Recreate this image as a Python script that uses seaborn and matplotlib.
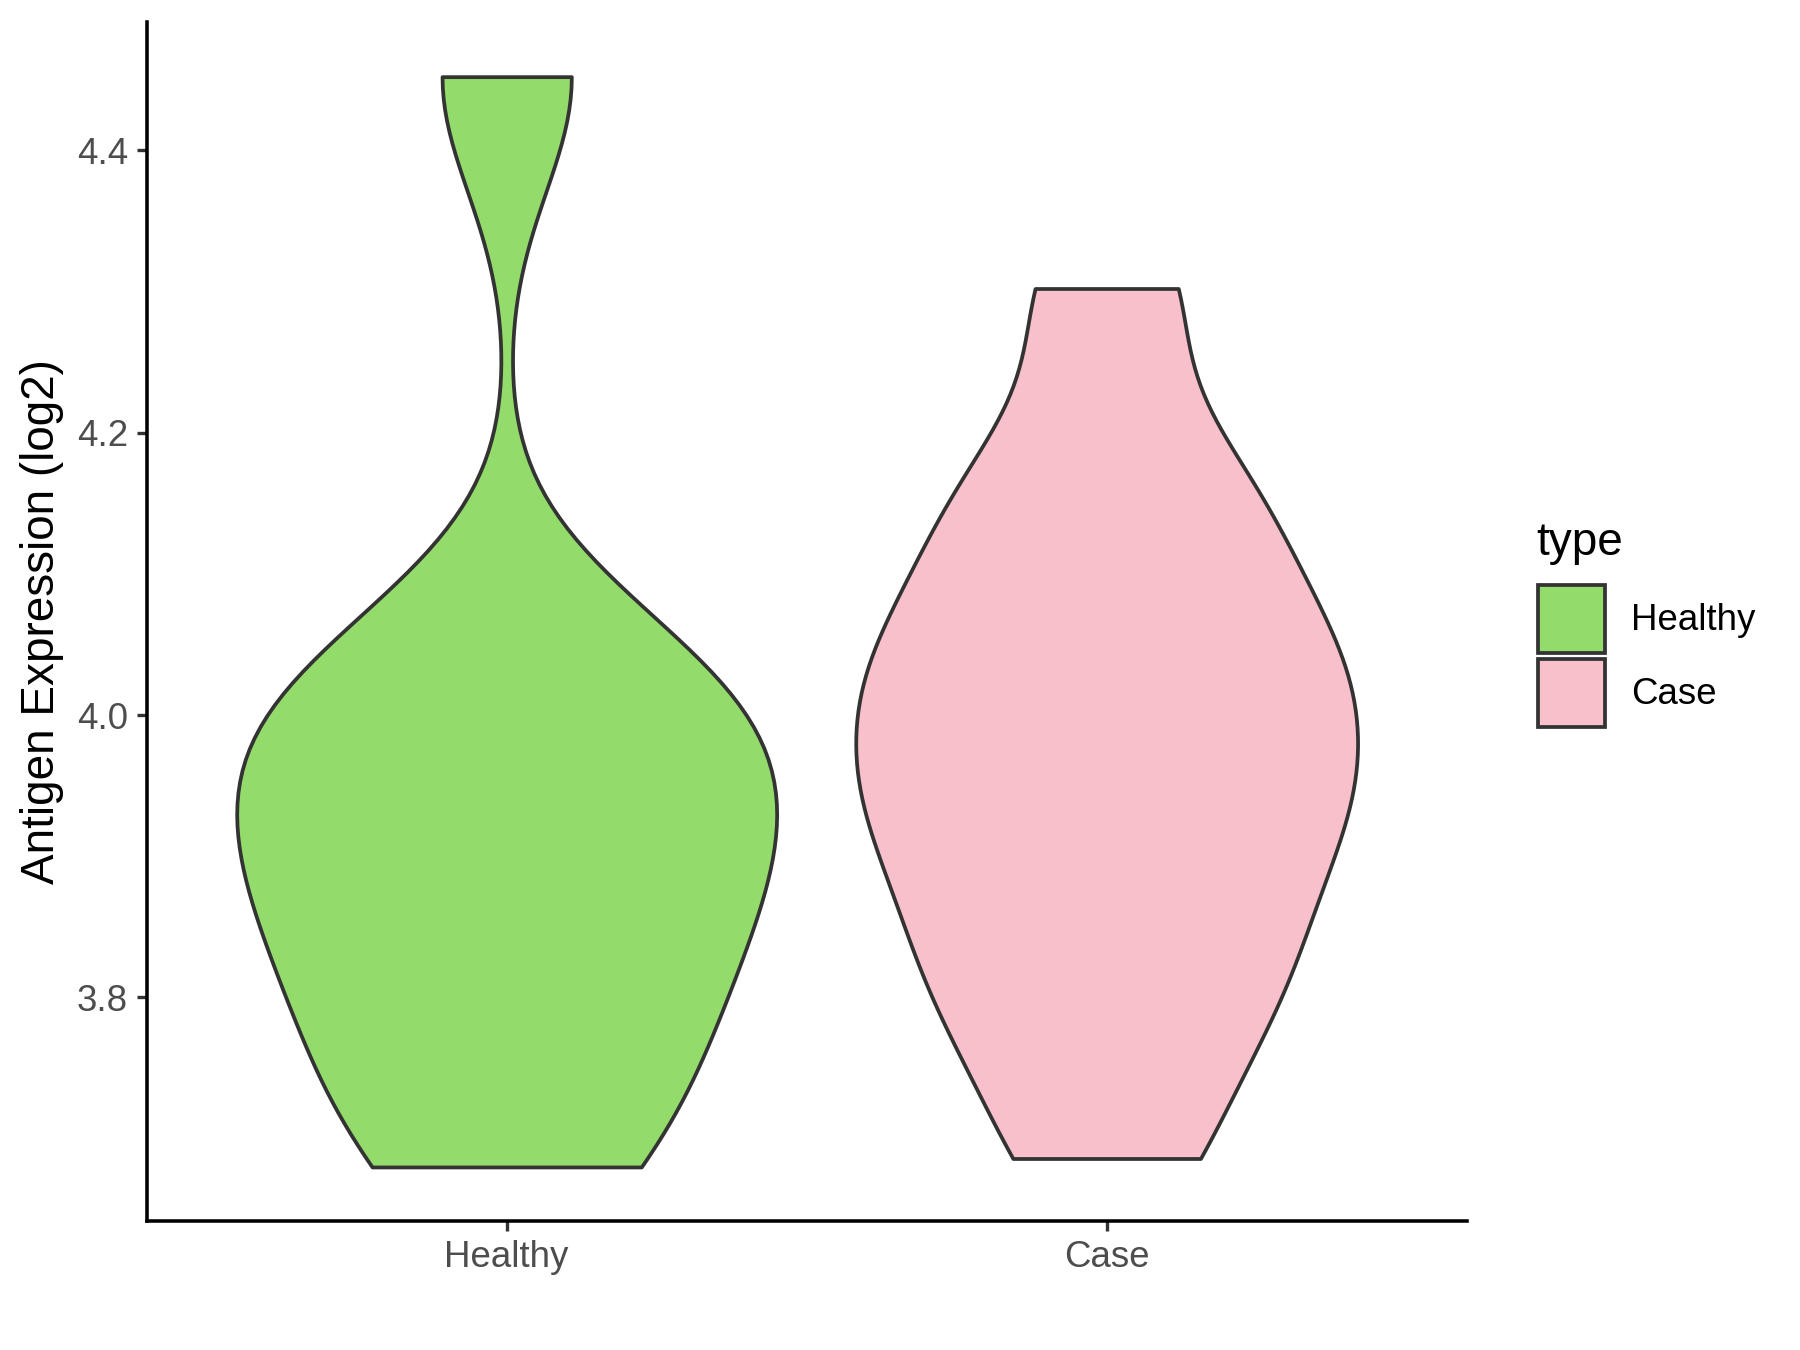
import pandas as pd
import matplotlib
matplotlib.use("Agg")
import matplotlib.pyplot as plt
import seaborn as sns
from matplotlib.patches import Patch

# --- DATOS ---
tipos = ["Healthy", "Case"]
healthy_valores = [3.680, 3.745, 3.811, 3.888, 3.888, 3.971, 4.002, 4.035, 4.452]
case_valores = [3.686, 3.773, 3.822, 3.870, 3.937, 3.937, 3.994, 4.048, 4.048, 4.131, 4.173, 4.302]
colores = ["#93DB6B", "#F7C0CB"]
y_ticks = [3.8, 4.0, 4.2, 4.4]
y_tick_labels = ["3.8", "4.0", "4.2", "4.4"]

df = pd.DataFrame({
    "type": ["Healthy"] * len(healthy_valores) + ["Case"] * len(case_valores),
    "value": healthy_valores + case_valores,
})

plt.rcParams['font.family'] = ['Liberation Sans', 'DejaVu Sans']

fig = plt.figure(figsize=(12, 9), dpi=150)
ax = fig.add_axes([0.0815, 0.0952, 0.7333, 0.8884])

# --- VIOLINES (recortados al rango de los datos, normalizados por area) ---
sns.violinplot(data=df, x="type", y="value", hue="type", order=tipos, hue_order=tipos,
               palette=colores, saturation=1, cut=0, inner=None, width=0.9,
               density_norm="area", common_norm=True, bw_method=0.363,
               linewidth=1.8, linecolor="#333333", legend=False, ax=ax)

ax.set_xlim(-0.6, 1.6)
ax.set_ylim(3.6414, 4.4906)

# --- ESTILO tipo theme_classic ---
ax.spines[["top", "right"]].set_visible(False)
ax.spines[["left", "bottom"]].set_linewidth(1.7)
ax.set_yticks(y_ticks)
ax.set_yticklabels(y_tick_labels)
ax.tick_params(length=5, width=1.6, color="#333333", labelcolor="#4D4D4D", labelsize=17.6, pad=4)
ax.set_xlabel("")
ax.set_ylabel("Antigen Expression (log2)", fontsize=22, color="black", labelpad=6)

# --- LEYENDA ---
handles = [Patch(facecolor=c, edgecolor="#333333", linewidth=1.8) for c in colores]
fig.legend(handles=handles, labels=tipos, loc="upper left", bbox_to_anchor=(0.8546, 0.567),
           frameon=False, fontsize=17.6, handlelength=1.83, handleheight=2.5, handletextpad=0.7,
           labelspacing=0.15, borderpad=0, borderaxespad=0)
fig.text(1536.7 / 1800, 1 - 555 / 1350, "type", fontsize=22, va="baseline", ha="left")

fig.savefig("out.png", dpi=150)
